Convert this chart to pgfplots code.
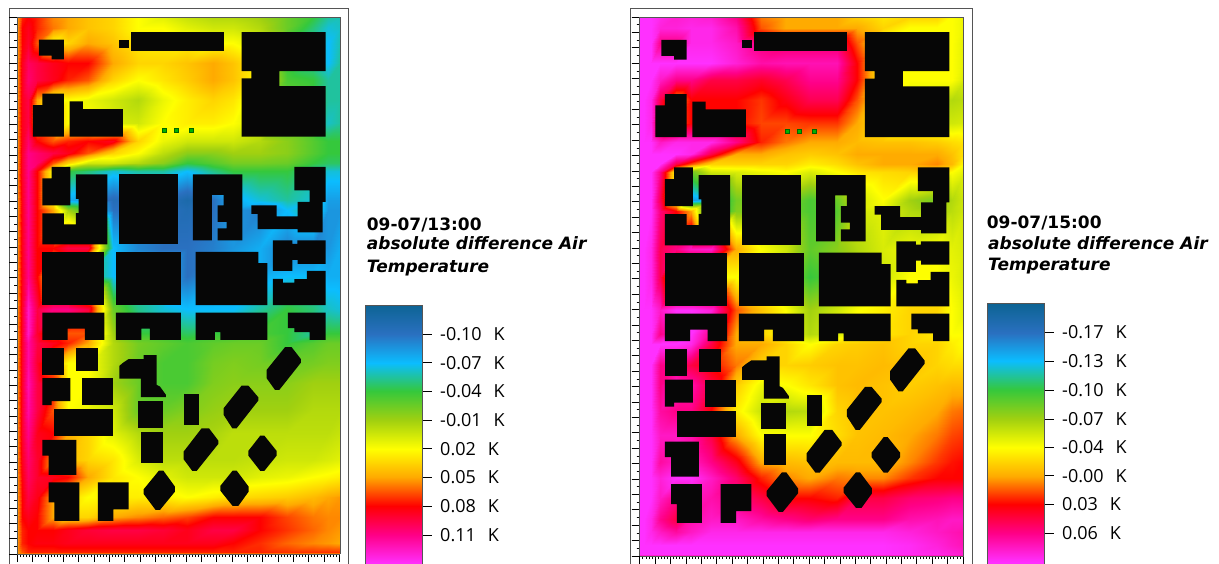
\documentclass[border=0pt]{standalone}
\usepackage{pgfplots}
\pgfplotsset{compat=1.18}
\usepackage{fontspec}
\setmainfont{Open Sans}
\newfontfamily\titlefont{DejaVu Sans}
\definecolor{bld}{RGB}{6,6,6}
\definecolor{frm}{RGB}{85,85,85}
\pgfplotsset{
 colormap={env}{rgb255=(13,100,148) rgb255=(42,112,192) rgb255=(11,189,255) rgb255=(53,200,60) rgb255=(160,208,16) rgb255=(255,255,0) rgb255=(255,170,0) rgb255=(255,0,0) rgb255=(255,0,136) rgb255=(255,48,255)},
 mapaxis/.style={scale only axis,xmin=52,xmax=1020,ymin=52,ymax=1662,y dir=reverse,view={0}{90},colormap name=env,
  xtick={52,98,...,1020},ytick={52,98,...,1662},minor x tick num=4,minor y tick num=1,
  xticklabels={},yticklabels={},tick align=outside,major tick length=8pt,minor tick length=3pt,
  tick style={black,line width=.7pt},axis line style={frm,line width=.9pt},xtick pos=lower,ytick pos=left,axis on top},
 cbaxis/.style={scale only axis,xmin=0,xmax=1,y dir=reverse,view={0}{90},colormap name=env,xtick=\empty,
  ytick pos=right,yticklabel pos=right,tick align=outside,major tick length=9pt,minor tick length=0pt,
  tick style={black,line width=.7pt},axis line style={frm,line width=1pt},axis on top,
  yticklabel style={font=\fontsize{18}{18}\selectfont,xshift=5pt}},
 fr/.style={scale only axis,xmin=0,xmax=1,ymin=0,ymax=1,ticks=none,axis line style={frm,line width=1pt}},
 b/.style={fill=bld,draw=none,forget plot},
}
\newcommand\K{\hspace{12pt}K}
\newcommand\buildings{%
\addplot[b] coordinates {(117,120)(192,120)(192,179)(155,179)(155,168)(117,168)};
\addplot[b] coordinates {(358,120)(387,120)(387,144)(358,144)};
\addplot[b] coordinates {(394,97)(672,97)(672,155)(394,155)};
\addplot[b] coordinates {(725,97)(977,97)(977,214)(838,214)(838,259)(977,259)(977,411)(725,411)(725,236)(754,236)(754,214)(725,214)};
\addplot[b] coordinates {(127,282)(192,282)(192,411)(99,411)(99,316)(127,316)};
\addplot[b] coordinates {(209,305)(249,305)(249,328)(369,328)(369,411)(209,411)};
\addplot[b] coordinates {(155,501)(211,501)(211,617)(127,617)(127,536)(155,536)};
\addplot[b] coordinates {(228,524)(322,524)(322,734)(127,734)(127,641)(192,641)(192,674)(228,674)(228,640)(236,640)(236,597)(228,597)};
\addplot[b] coordinates {(358,524)(534,524)(534,734)(358,734)};
\addplot[b] coordinates {(579,524)(727,524)(727,722)(653,722)(653,686)(680,686)(680,666)(653,666)(653,617)(671,617)(671,585)(636,585)(636,722)(579,722)};
\addplot[b] coordinates {(883,501)(977,501)(977,606)(968,606)(968,698)(893,698)(893,688)(773,688)(773,642)(754,642)(754,617)(830,617)(830,650)(893,650)(893,606)(929,606)(929,572)(883,572)};
\addplot[b] coordinates {(819,722)(877,722)(877,732)(892,732)(892,722)(977,722)(977,792)(893,792)(893,780)(877,780)(877,813)(819,813)};
\addplot[b] coordinates {(127,756)(313,756)(313,916)(127,916)};
\addplot[b] coordinates {(348,756)(543,756)(543,916)(348,916)};
\addplot[b] coordinates {(587,756)(775,756)(775,790)(802,790)(802,916)(587,916)};
\addplot[b] coordinates {(819,837)(849,837)(849,848)(883,848)(883,838)(921,838)(921,813)(977,813)(977,916)(819,916)};
\addplot[b] coordinates {(127,938)(313,938)(313,1020)(255,1020)(255,986)(203,986)(203,1020)(127,1020)};
\addplot[b] coordinates {(348,938)(543,938)(543,1020)(450,1020)(450,986)(424,986)(424,1020)(348,1020)};
\addplot[b] coordinates {(587,938)(802,938)(802,1020)(661,1020)(661,997)(645,997)(645,1020)(587,1020)};
\addplot[b] coordinates {(864,938)(977,938)(977,1020)(929,1020)(929,997)(883,997)(883,985)(864,985)};
\addplot[b] coordinates {(127,1043)(192,1043)(192,1124)(127,1124)};
\addplot[b] coordinates {(228,1043)(295,1043)(295,1112)(228,1112)};
\addplot[b] coordinates {(431,1066)(470,1066)(470,1155)(480,1160)(498,1185)(498,1192)(423,1192)(423,1136)(358,1136)(358,1098)(370,1088)(385,1078)(431,1078)};
\addplot[b] coordinates {(127,1135)(211,1135)(211,1204)(155,1204)(155,1216)(127,1216)};
\addplot[b] coordinates {(246,1135)(340,1135)(340,1216)(246,1216)};
\addplot[b] coordinates {(413,1204)(488,1204)(488,1284)(413,1284)};
\addplot[b] coordinates {(551,1181)(598,1181)(598,1274)(551,1274)};
\addplot[b] coordinates {(163,1228)(340,1228)(340,1308)(163,1308)};
\addplot[b] coordinates {(423,1297)(488,1297)(488,1390)(423,1390)};
\addplot[b] coordinates {(127,1320)(229,1320)(229,1425)(146,1425)(146,1367)(127,1367)};
\addplot[b] coordinates {(146,1447)(238,1447)(238,1563)(163,1563)(163,1507)(146,1507)};
\addplot[b] coordinates {(294,1447)(386,1447)(386,1528)(340,1528)(340,1563)(294,1563)};
\addplot[b] coordinates {(477,1412)(490,1412)(525,1460)(525,1475)(480,1530)(467,1530)(431,1482)(431,1468)};
\addplot[b] coordinates {(698,1412)(710,1412)(746,1460)(746,1475)(715,1518)(698,1518)(661,1472)(661,1458)};
\addplot[b] coordinates {(781,1307)(793,1307)(830,1353)(830,1367)(793,1413)(781,1413)(745,1367)(745,1353)};
\addplot[b] coordinates {(605,1285)(627,1285)(655,1322)(655,1332)(590,1413)(577,1413)(551,1378)(551,1355)};
\addplot[b] coordinates {(855,1042)(875,1042)(903,1078)(903,1088)(838,1170)(825,1170)(800,1135)(800,1110)};
\addplot[b] coordinates {(725,1157)(745,1157)(775,1192)(775,1202)(710,1285)(697,1285)(671,1245)(671,1225)};
\addplot[only marks,mark=square*,mark size=1.9pt,mark options={fill=green!70!black,draw=black!60!green,line width=.4pt},forget plot] coordinates {(492,392)(528,392)(574,392)};
}
\begin{document}
\begin{tikzpicture}
\path[use as bounding box] (0pt,0pt) rectangle (1219pt,563pt);
\clip (0pt,0pt) rectangle (1219pt,563pt);
\begin{axis}[fr,at={(9.3pt,554.7pt)},anchor=north west,width=338.7pt,height=570pt]\end{axis}
\begin{axis}[fr,at={(630.7pt,554.7pt)},anchor=north west,width=341.6pt,height=570pt]\end{axis}

\begin{axis}[mapaxis,at={(17.3pt,546pt)},anchor=north west,width=322.7pt,height=537pt,point meta min=-.13,point meta max=.14]
\addplot3[surf,shader=interp,mesh/cols=18,forget plot] coordinates {
(52,52,.05)(66,52,.074)(85,52,.08)(112,52,.074)(160,52,.056)(205,52,.05)(265,52,.041)(340,52,.035)(415,52,.02)(490,52,.011)(560,52,.002)(640,52,-.004)(700,52,-.004)(780,52,-.01)(860,52,-.025)(940,52,-.04)(985,52,-.055)(1020,52,-.058)
(52,85,.05)(66,85,.08)(85,85,.086)(112,85,.074)(160,85,.059)(205,85,.05)(265,85,.041)(340,85,.035)(415,85,.02)(490,85,.02)(560,85,.011)(640,85,.005)(700,85,.005)(780,85,-.004)(860,85,-.025)(940,85,-.049)(985,85,-.064)(1020,85,-.061)
(52,130,.05)(66,130,.08)(85,130,.089)(112,130,.065)(160,130,.02)(205,130,.035)(265,130,.05)(340,130,.041)(415,130,.029)(490,130,.026)(560,130,.026)(640,130,.02)(700,130,.02)(780,130,.005)(860,130,-.04)(940,130,-.055)(985,130,-.07)(1020,130,-.058)
(52,190,.05)(66,190,.086)(85,190,.101)(112,190,.095)(160,190,.086)(205,190,.08)(265,190,.08)(340,190,.05)(415,190,.035)(490,190,.035)(560,190,.041)(640,190,.05)(700,190,.041)(780,190,.02)(860,190,-.04)(940,190,-.055)(985,190,-.07)(1020,190,-.055)
(52,240,.05)(66,240,.086)(85,240,.104)(112,240,.095)(160,240,.086)(205,240,.074)(265,240,.065)(340,240,.035)(415,240,.02)(490,240,.029)(560,240,.038)(640,240,.05)(700,240,.041)(780,240,.02)(860,240,-.034)(940,240,-.04)(985,240,-.055)(1020,240,-.055)
(52,300,.05)(66,300,.086)(85,300,.095)(112,300,.05)(160,300,.02)(205,300,.02)(265,300,.014)(340,300,.005)(415,300,-.004)(490,300,.014)(560,300,.026)(640,300,.035)(700,300,.029)(780,300,.005)(860,300,-.025)(940,300,-.04)(985,300,-.055)(1020,300,-.055)
(52,370,.05)(66,370,.086)(85,370,.095)(112,370,.05)(160,370,.05)(205,370,.02)(265,370,.02)(340,370,.008)(415,370,.005)(490,370,.02)(560,370,.026)(640,370,.026)(700,370,.02)(780,370,.005)(860,370,-.04)(940,370,-.04)(985,370,-.061)(1020,370,-.055)
(52,425,.05)(66,425,.086)(85,425,.104)(112,425,.08)(160,425,.065)(205,425,.074)(265,425,.08)(340,425,.086)(415,425,.035)(490,425,.014)(560,425,.005)(640,425,.005)(700,425,.005)(780,425,-.004)(860,425,-.016)(940,425,-.031)(985,425,-.04)(1020,425,-.04)
(52,460,.05)(66,460,.089)(85,460,.11)(112,460,.104)(160,460,.095)(205,460,.086)(265,460,.065)(340,460,.035)(415,460,.02)(490,460,-.001)(560,460,-.016)(640,460,-.016)(700,460,-.01)(780,460,-.01)(860,460,-.016)(940,460,-.031)(985,460,-.04)(1020,460,-.04)
(52,490,.05)(66,490,.089)(85,490,.11)(112,490,.104)(160,490,.065)(205,490,.035)(265,490,.005)(340,490,.005)(415,490,-.004)(490,490,-.016)(560,490,-.04)(640,490,-.031)(700,490,-.022)(780,490,-.022)(860,490,-.025)(940,490,-.04)(985,490,-.046)(1020,490,-.046)
(52,515,.05)(66,515,.089)(85,515,.11)(112,515,.08)(160,515,.02)(205,515,-.04)(265,515,-.049)(340,515,-.064)(415,515,-.055)(490,515,-.055)(560,515,-.07)(640,515,-.052)(700,515,-.04)(780,515,-.04)(860,515,-.04)(940,515,-.055)(985,515,-.064)(1020,515,-.064)
(52,600,.05)(66,600,.086)(85,600,.11)(112,600,.08)(160,600,.02)(205,600,-.076)(265,600,-.085)(340,600,-.106)(415,600,-.10)(490,600,-.10)(560,600,-.115)(640,600,-.10)(700,600,-.076)(780,600,-.064)(860,600,-.055)(940,600,-.064)(985,600,-.082)(1020,600,-.082)
(52,630,.05)(66,630,.086)(85,630,.11)(112,630,.08)(160,630,.05)(205,630,-.01)(265,630,-.04)(340,630,-.10)(415,630,-.10)(490,630,-.10)(560,630,-.109)(640,630,-.10)(700,630,-.085)(780,630,-.094)(860,630,-.07)(940,630,-.049)(985,630,-.085)(1020,630,-.085)
(52,745,.05)(66,745,.086)(85,745,.11)(112,745,.08)(160,745,.08)(205,745,.095)(265,745,.095)(340,745,-.07)(415,745,-.091)(490,745,-.10)(560,745,-.10)(640,745,-.094)(700,745,-.085)(780,745,-.076)(860,745,-.094)(940,745,-.094)(985,745,-.085)(1020,745,-.076)
(52,830,.05)(66,830,.086)(85,830,.11)(112,830,.08)(160,830,.02)(205,830,.02)(265,830,-.04)(340,830,-.07)(415,830,-.07)(490,830,-.07)(560,830,-.10)(640,830,-.085)(700,830,-.079)(780,830,-.076)(860,830,-.07)(940,830,-.07)(985,830,-.076)(1020,830,-.076)
(52,927,.05)(66,927,.089)(85,927,.125)(112,927,.095)(160,927,.11)(205,927,.11)(265,927,.095)(340,927,-.025)(415,927,-.052)(490,927,-.064)(560,927,-.07)(640,927,-.07)(700,927,-.07)(780,927,-.055)(860,927,-.04)(940,927,-.049)(985,927,-.061)(1020,927,-.064)
(52,1000,.05)(66,1000,.089)(85,1000,.125)(112,1000,.09)(160,1000,.059)(205,1000,.065)(265,1000,.065)(340,1000,-.01)(415,1000,-.04)(490,1000,-.04)(560,1000,-.046)(640,1000,-.04)(700,1000,-.04)(780,1000,-.034)(860,1000,-.04)(940,1000,-.055)(985,1000,-.04)(1020,1000,-.04)
(52,1030,.05)(66,1030,.089)(85,1030,.116)(112,1030,.095)(160,1030,.086)(205,1030,.074)(265,1030,.05)(340,1030,-.004)(415,1030,-.022)(490,1030,-.028)(560,1030,-.034)(640,1030,-.028)(700,1030,-.025)(780,1030,-.025)(860,1030,-.04)(940,1030,-.031)(985,1030,-.025)(1020,1030,-.025)
(52,1090,.05)(66,1090,.089)(85,1090,.116)(112,1090,.09)(160,1090,.05)(205,1090,.02)(265,1090,.02)(340,1090,-.004)(415,1090,-.025)(490,1090,-.034)(560,1090,-.034)(640,1090,-.022)(700,1090,-.019)(780,1090,-.022)(860,1090,-.025)(940,1090,-.022)(985,1090,-.019)(1020,1090,-.019)
(52,1150,.05)(66,1150,.089)(85,1150,.119)(112,1150,.095)(160,1150,.08)(205,1150,.02)(265,1150,.02)(340,1150,-.01)(415,1150,-.025)(490,1150,-.034)(560,1150,-.034)(640,1150,-.019)(700,1150,-.016)(780,1150,-.016)(860,1150,-.016)(940,1150,-.01)(985,1150,-.01)(1020,1150,-.01)
(52,1230,.05)(66,1230,.089)(85,1230,.116)(112,1230,.095)(160,1230,.065)(205,1230,.02)(265,1230,.014)(340,1230,.005)(415,1230,-.025)(490,1230,-.025)(560,1230,-.019)(640,1230,-.013)(700,1230,-.01)(780,1230,-.01)(860,1230,-.01)(940,1230,-.004)(985,1230,-.004)(1020,1230,-.004)
(52,1300,.05)(66,1300,.089)(85,1300,.11)(112,1300,.086)(160,1300,.08)(205,1300,.05)(265,1300,.035)(340,1300,.011)(415,1300,-.004)(490,1300,-.01)(560,1300,-.01)(640,1300,-.007)(700,1300,-.001)(780,1300,-.001)(860,1300,-.001)(940,1300,-.001)(985,1300,-.001)(1020,1300,.002)
(52,1380,.05)(66,1380,.086)(85,1380,.104)(112,1380,.09)(160,1380,.05)(205,1380,.044)(265,1380,.035)(340,1380,.029)(415,1380,.008)(490,1380,-.001)(560,1380,-.001)(640,1380,-.001)(700,1380,-.001)(780,1380,.002)(860,1380,.005)(940,1380,.005)(985,1380,.008)(1020,1380,.011)
(52,1430,.05)(66,1430,.083)(85,1430,.101)(112,1430,.09)(160,1430,.086)(205,1430,.08)(265,1430,.05)(340,1430,.029)(415,1430,.02)(490,1430,.011)(560,1430,.005)(640,1430,.005)(700,1430,.005)(780,1430,.011)(860,1430,.014)(940,1430,.02)(985,1430,.023)(1020,1430,.026)
(52,1490,.05)(66,1490,.08)(85,1490,.095)(112,1490,.085)(160,1490,.05)(205,1490,.035)(265,1490,.02)(340,1490,.026)(415,1490,.026)(490,1490,.026)(560,1490,.02)(640,1490,.026)(700,1490,.032)(780,1490,.035)(860,1490,.038)(940,1490,.044)(985,1490,.05)(1020,1490,.053)
(52,1550,.05)(66,1550,.08)(85,1550,.086)(112,1550,.08)(160,1550,.05)(205,1550,.035)(265,1550,.035)(340,1550,.05)(415,1550,.056)(490,1550,.062)(560,1550,.068)(640,1550,.08)(700,1550,.08)(780,1550,.08)(860,1550,.068)(940,1550,.059)(985,1550,.056)(1020,1550,.056)
(52,1590,.05)(66,1590,.074)(85,1590,.08)(112,1590,.08)(160,1590,.08)(205,1590,.086)(265,1590,.092)(340,1590,.095)(415,1590,.095)(490,1590,.092)(560,1590,.086)(640,1590,.095)(700,1590,.095)(780,1590,.08)(860,1590,.071)(940,1590,.062)(985,1590,.056)(1020,1590,.053)
(52,1630,.05)(66,1630,.074)(85,1630,.08)(112,1630,.083)(160,1630,.083)(205,1630,.086)(265,1630,.086)(340,1630,.086)(415,1630,.086)(490,1630,.086)(560,1630,.086)(640,1630,.086)(700,1630,.08)(780,1630,.072)(860,1630,.062)(940,1630,.056)(985,1630,.053)(1020,1630,.05)
(52,1655,.05)(66,1655,.065)(85,1655,.074)(112,1655,.074)(160,1655,.074)(205,1655,.074)(265,1655,.074)(340,1655,.074)(415,1655,.074)(490,1655,.074)(560,1655,.074)(640,1655,.074)(700,1655,.074)(780,1655,.074)(860,1655,.071)(940,1655,.071)(985,1655,.071)(1020,1655,.071)
(52,1662,.05)(66,1662,.05)(85,1662,.05)(112,1662,.05)(160,1662,.05)(205,1662,.05)(265,1662,.05)(340,1662,.05)(415,1662,.05)(490,1662,.05)(560,1662,.05)(640,1662,.05)(700,1662,.05)(780,1662,.05)(860,1662,.05)(940,1662,.05)(985,1662,.05)(1020,1662,.05)
};
\buildings
\end{axis}

\begin{axis}[mapaxis,at={(639.7pt,546pt)},anchor=north west,width=324pt,height=539pt,point meta min=-.2,point meta max=.0961]
\addplot3[surf,shader=interp,mesh/cols=18,forget plot] coordinates {
(52,52,.096)(66,52,.096)(85,52,.096)(112,52,.09)(160,52,.083)(205,52,.086)(265,52,.083)(340,52,.063)(415,52,.007)(490,52,-.003)(560,52,-.003)(640,52,-.003)(700,52,-.016)(780,52,-.026)(860,52,-.019)(940,52,-.019)(985,52,-.036)(1020,52,-.042)
(52,85,.096)(66,85,.096)(85,85,.096)(112,85,.086)(160,85,.086)(205,85,.09)(265,85,.09)(340,85,.073)(415,85,.014)(490,85,-.003)(560,85,-.003)(640,85,-.003)(700,85,-.003)(780,85,-.019)(860,85,-.036)(940,85,-.036)(985,85,-.036)(1020,85,-.042)
(52,130,.096)(66,130,.096)(85,130,.096)(112,130,.063)(160,130,.063)(205,130,.09)(265,130,.09)(340,130,.08)(415,130,.06)(490,130,.055)(560,130,.055)(640,130,.055)(700,130,.014)(780,130,-.036)(860,130,-.036)(940,130,-.036)(985,130,-.036)(1020,130,-.045)
(52,190,.096)(66,190,.096)(85,190,.096)(112,190,.096)(160,190,.096)(205,190,.096)(265,190,.096)(340,190,.085)(415,190,.072)(490,190,.075)(560,190,.075)(640,190,.075)(700,190,.03)(780,190,-.036)(860,190,-.036)(940,190,-.036)(985,190,-.036)(1020,190,-.045)
(52,240,.096)(66,240,.096)(85,240,.096)(112,240,.08)(160,240,.063)(205,240,.063)(265,240,.047)(340,240,.047)(415,240,.04)(490,240,.05)(560,240,.065)(640,240,.065)(700,240,.03)(780,240,-.036)(860,240,-.036)(940,240,-.036)(985,240,-.036)(1020,240,-.049)
(52,300,.096)(66,300,.096)(85,300,.09)(112,300,.047)(160,300,-.003)(205,300,.03)(265,300,.03)(340,300,.03)(415,300,.02)(490,300,.035)(560,300,.05)(640,300,.05)(700,300,.014)(780,300,-.029)(860,300,-.049)(940,300,-.052)(985,300,-.062)(1020,300,-.059)
(52,370,.096)(66,370,.096)(85,370,.09)(112,370,.03)(160,370,.014)(205,370,.03)(265,370,.03)(340,370,.03)(415,370,.017)(490,370,.017)(560,370,.02)(640,370,.02)(700,370,-.003)(780,370,-.029)(860,370,-.049)(940,370,-.049)(985,370,-.052)(1020,370,-.049)
(52,425,.096)(66,425,.096)(85,425,.096)(112,425,.08)(160,425,.09)(205,425,.09)(265,425,.09)(340,425,.063)(415,425,.024)(490,425,.007)(560,425,-.003)(640,425,-.003)(700,425,-.009)(780,425,-.012)(860,425,-.012)(940,425,-.016)(985,425,-.022)(1020,425,-.026)
(52,460,.096)(66,460,.096)(85,460,.096)(112,460,.096)(160,460,.096)(205,460,.09)(265,460,.047)(340,460,-.003)(415,460,-.003)(490,460,-.012)(560,460,-.016)(640,460,-.012)(700,460,-.003)(780,460,-.003)(860,460,-.003)(940,460,-.003)(985,460,-.012)(1020,460,-.026)
(52,490,.096)(66,490,.096)(85,490,.096)(112,490,.096)(160,490,.047)(205,490,.014)(265,490,-.019)(340,490,-.019)(415,490,-.019)(490,490,-.019)(560,490,-.029)(640,490,-.022)(700,490,-.012)(780,490,-.003)(860,490,-.003)(940,490,.004)(985,490,-.009)(1020,490,-.036)
(52,515,.096)(66,515,.096)(85,515,.096)(112,515,.063)(160,515,-.036)(205,515,-.085)(265,515,-.052)(340,515,-.049)(415,515,-.042)(490,515,-.036)(560,515,-.049)(640,515,-.036)(700,515,-.026)(780,515,-.022)(860,515,-.019)(940,515,-.019)(985,515,-.036)(1020,515,-.045)
(52,600,.096)(66,600,.096)(85,600,.096)(112,600,.05)(160,600,-.036)(205,600,-.15)(265,600,-.134)(340,600,-.082)(415,600,-.075)(490,600,-.075)(560,600,-.095)(640,600,-.085)(700,600,-.052)(780,600,-.036)(860,600,-.068)(940,600,-.082)(985,600,-.062)(1020,600,-.052)
(52,630,.096)(66,630,.096)(85,630,.096)(112,630,.06)(160,630,.03)(205,630,-.003)(265,630,-.134)(340,630,-.078)(415,630,-.078)(490,630,-.078)(560,630,-.095)(640,630,-.091)(700,630,-.052)(780,630,-.045)(860,630,-.062)(940,630,-.068)(985,630,-.059)(1020,630,-.052)
(52,745,.096)(66,745,.096)(85,745,.09)(112,745,.05)(160,745,.063)(205,745,.08)(265,745,.083)(340,745,-.003)(415,745,-.036)(490,745,-.052)(560,745,-.088)(640,745,-.075)(700,745,-.062)(780,745,-.049)(860,745,-.042)(940,745,-.036)(985,745,-.045)(1020,745,-.049)
(52,830,.096)(66,830,.096)(85,830,.09)(112,830,.05)(160,830,-.036)(205,830,-.036)(265,830,-.036)(340,830,-.036)(415,830,-.052)(490,830,-.068)(560,830,-.101)(640,830,-.085)(700,830,-.068)(780,830,-.052)(860,830,-.036)(940,830,-.036)(985,830,-.042)(1020,830,-.049)
(52,927,.096)(66,927,.096)(85,927,.096)(112,927,.08)(160,927,.096)(205,927,.096)(265,927,.086)(340,927,.014)(415,927,-.012)(490,927,-.036)(560,927,-.068)(640,927,-.052)(700,927,-.036)(780,927,-.029)(860,927,-.019)(940,927,-.019)(985,927,-.036)(1020,927,-.045)
(52,1000,.096)(66,1000,.096)(85,1000,.096)(112,1000,.063)(160,1000,.08)(205,1000,.096)(265,1000,.063)(340,1000,-.003)(415,1000,-.019)(490,1000,-.036)(560,1000,-.062)(640,1000,-.049)(700,1000,-.036)(780,1000,-.026)(860,1000,-.019)(940,1000,-.026)(985,1000,-.036)(1020,1000,-.036)
(52,1030,.096)(66,1030,.096)(85,1030,.096)(112,1030,.096)(160,1030,.096)(205,1030,.09)(265,1030,.047)(340,1030,-.003)(415,1030,-.003)(490,1030,-.019)(560,1030,-.036)(640,1030,-.019)(700,1030,-.016)(780,1030,-.012)(860,1030,-.019)(940,1030,-.019)(985,1030,-.029)(1020,1030,-.036)
(52,1090,.096)(66,1090,.096)(85,1090,.096)(112,1090,.063)(160,1090,.063)(205,1090,.047)(265,1090,.03)(340,1090,.007)(415,1090,-.019)(490,1090,-.019)(560,1090,-.016)(640,1090,-.012)(700,1090,-.012)(780,1090,-.009)(860,1090,-.012)(940,1090,-.019)(985,1090,-.022)(1020,1090,-.022)
(52,1150,.096)(66,1150,.096)(85,1150,.096)(112,1150,.063)(160,1150,.08)(205,1150,.073)(265,1150,.047)(340,1150,-.016)(415,1150,-.042)(490,1150,-.036)(560,1150,-.026)(640,1150,-.012)(700,1150,-.009)(780,1150,-.012)(860,1150,-.016)(940,1150,-.012)(985,1150,-.009)(1020,1150,-.009)
(52,1230,.096)(66,1230,.096)(85,1230,.096)(112,1230,.07)(160,1230,.063)(205,1230,.063)(265,1230,.03)(340,1230,-.029)(415,1230,-.055)(490,1230,-.062)(560,1230,-.059)(640,1230,-.019)(700,1230,-.012)(780,1230,-.012)(860,1230,-.009)(940,1230,-.003)(985,1230,.007)(1020,1230,.01)
(52,1300,.096)(66,1300,.096)(85,1300,.096)(112,1300,.08)(160,1300,.08)(205,1300,.073)(265,1300,.047)(340,1300,-.003)(415,1300,-.036)(490,1300,-.036)(560,1300,-.036)(640,1300,-.022)(700,1300,-.012)(780,1300,-.009)(860,1300,-.003)(940,1300,.007)(985,1300,.017)(1020,1300,.02)
(52,1380,.096)(66,1380,.096)(85,1380,.096)(112,1380,.07)(160,1380,.08)(205,1380,.08)(265,1380,.063)(340,1380,.037)(415,1380,-.003)(490,1380,-.009)(560,1380,-.012)(640,1380,-.009)(700,1380,-.009)(780,1380,-.009)(860,1380,.004)(940,1380,.02)(985,1380,.027)(1020,1380,.03)
(52,1430,.096)(66,1430,.096)(85,1430,.096)(112,1430,.085)(160,1430,.096)(205,1430,.096)(265,1430,.08)(340,1430,.057)(415,1430,.024)(490,1430,.004)(560,1430,-.003)(640,1430,.007)(700,1430,.004)(780,1430,.004)(860,1430,.02)(940,1430,.03)(985,1430,.03)(1020,1430,.03)
(52,1490,.096)(66,1490,.096)(85,1490,.096)(112,1490,.08)(160,1490,.063)(205,1490,.08)(265,1490,.073)(340,1490,.063)(415,1490,.047)(490,1490,.03)(560,1490,.03)(640,1490,.024)(700,1490,.047)(780,1490,.047)(860,1490,.057)(940,1490,.06)(985,1490,.063)(1020,1490,.063)
(52,1550,.096)(66,1550,.096)(85,1550,.09)(112,1550,.065)(160,1550,.047)(205,1550,.073)(265,1550,.08)(340,1550,.08)(415,1550,.07)(490,1550,.063)(560,1550,.057)(640,1550,.063)(700,1550,.063)(780,1550,.063)(860,1550,.073)(940,1550,.076)(985,1550,.08)(1020,1550,.08)
(52,1590,.096)(66,1590,.096)(85,1590,.09)(112,1590,.08)(160,1590,.07)(205,1590,.08)(265,1590,.09)(340,1590,.09)(415,1590,.09)(490,1590,.09)(560,1590,.09)(640,1590,.09)(700,1590,.09)(780,1590,.09)(860,1590,.086)(940,1590,.08)(985,1590,.076)(1020,1590,.073)
(52,1630,.096)(66,1630,.096)(85,1630,.096)(112,1630,.096)(160,1630,.096)(205,1630,.096)(265,1630,.096)(340,1630,.096)(415,1630,.096)(490,1630,.096)(560,1630,.096)(640,1630,.096)(700,1630,.096)(780,1630,.096)(860,1630,.093)(940,1630,.086)(985,1630,.08)(1020,1630,.076)
(52,1655,.096)(66,1655,.096)(85,1655,.096)(112,1655,.096)(160,1655,.096)(205,1655,.096)(265,1655,.096)(340,1655,.096)(415,1655,.096)(490,1655,.096)(560,1655,.096)(640,1655,.096)(700,1655,.096)(780,1655,.096)(860,1655,.093)(940,1655,.09)(985,1655,.086)(1020,1655,.083)
(52,1662,.07)(66,1662,.07)(85,1662,.07)(112,1662,.07)(160,1662,.07)(205,1662,.07)(265,1662,.07)(340,1662,.07)(415,1662,.07)(490,1662,.07)(560,1662,.07)(640,1662,.07)(700,1662,.07)(780,1662,.07)(860,1662,.07)(940,1662,.07)(985,1662,.07)(1020,1662,.07)
};
\buildings
\end{axis}

\begin{axis}[cbaxis,at={(365.3pt,257.7pt)},anchor=north west,width=57.4pt,height=264.7pt,ymin=-.13,ymax=.1467,point meta min=-.13,point meta max=.14,
 ytick={-.10,-.07,-.04,-.01,.02,.05,.08,.11},
 yticklabels={-0.10\K,-0.07\K,-0.04\K,-0.01\K,0.02\K,0.05\K,0.08\K,0.11\K}]
\addplot3[surf,shader=interp,mesh/cols=2,forget plot] coordinates {
(0,-.13,-.13)(1,-.13,-.13)(0,-.10,-.10)(1,-.10,-.10)(0,-.07,-.07)(1,-.07,-.07)(0,-.04,-.04)(1,-.04,-.04)(0,-.01,-.01)(1,-.01,-.01)(0,.02,.02)(1,.02,.02)(0,.05,.05)(1,.05,.05)(0,.08,.08)(1,.08,.08)(0,.11,.11)(1,.11,.11)(0,.14,.14)(1,.14,.14)(0,.1467,.14)(1,.1467,.14)};
\end{axis}

\begin{axis}[cbaxis,at={(987pt,259.3pt)},anchor=north west,width=57.7pt,height=266pt,ymin=-.2,ymax=.1047,point meta min=-.2,point meta max=.0961,
 ytick={-.167,-.134,-.101,-.068,-.036,-.003,.03,.063},
 yticklabels={-0.17\K,-0.13\K,-0.10\K,-0.07\K,-0.04\K,-0.00\K,0.03\K,0.06\K}]
\addplot3[surf,shader=interp,mesh/cols=2,forget plot] coordinates {
(0,-.2,-.2)(1,-.2,-.2)(0,-.167,-.167)(1,-.167,-.167)(0,-.134,-.134)(1,-.134,-.134)(0,-.101,-.101)(1,-.101,-.101)(0,-.068,-.068)(1,-.068,-.068)(0,-.036,-.036)(1,-.036,-.036)(0,-.003,-.003)(1,-.003,-.003)(0,.03,.03)(1,.03,.03)(0,.063,.063)(1,.063,.063)(0,.0961,.0961)(1,.0961,.0961)(0,.1047,.0961)(1,.1047,.0961)};
\end{axis}

\newcommand\tb{\titlefont\fontsize{17}{17}\selectfont\bfseries}
\newcommand\ti{\titlefont\fontsize{17}{17}\selectfont\bfseries\itshape}
\node[anchor=base west,inner sep=0pt] at (366.7pt,332pt) {\tb 09-07/13:00};
\node[anchor=base west,inner sep=0pt] at (366.7pt,313pt) {\ti absolute difference Air};
\node[anchor=base west,inner sep=0pt] at (366.7pt,290pt) {\ti Temperature};
\node[anchor=base west,inner sep=0pt] at (986.7pt,334.7pt) {\tb 09-07/15:00};
\node[anchor=base west,inner sep=0pt] at (988pt,313.7pt) {\ti absolute difference Air};
\node[anchor=base west,inner sep=0pt] at (988pt,292pt) {\ti Temperature};
\end{tikzpicture}
\end{document}
